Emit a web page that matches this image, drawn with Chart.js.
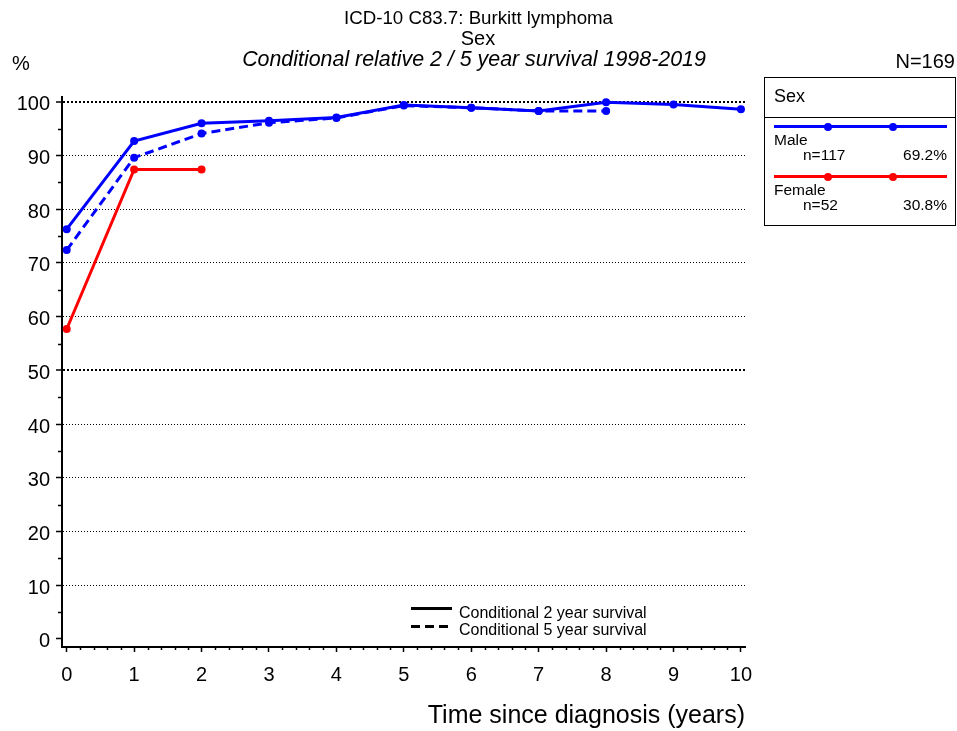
<!DOCTYPE html>
<html><head><meta charset="utf-8">
<script src="https://cdn.jsdelivr.net/npm/chart.js@4/dist/chart.umd.min.js"></script>
<style>
html,body{margin:0;padding:0;background:#fff;}
#wrap{position:relative;width:957px;height:731px;font-family:"Liberation Sans",Arial,sans-serif;color:#000;overflow:hidden;}
canvas{position:absolute;left:0;top:0;}
.t{position:absolute;white-space:nowrap;line-height:1;}
.ln{position:absolute;height:3px;}
.dot{position:absolute;width:8px;height:8px;border-radius:50%;}
</style></head><body>
<div id="wrap">
<canvas id="c" width="957" height="731"></canvas>
<div class="t" style="left:478.5px;top:9px;font-size:18.7px;transform:translateX(-50%);">ICD-10 C83.7: Burkitt lymphoma</div>
<div class="t" style="left:478px;top:28px;font-size:20px;transform:translateX(-50%);">Sex</div>
<div class="t" style="left:474px;top:49px;font-size:21.4px;font-style:italic;transform:translateX(-50%);">Conditional relative 2 / 5 year survival 1998-2019</div>
<div class="t" style="left:12px;top:53px;font-size:20px;">%</div>
<div class="t" style="right:2px;top:51px;font-size:20px;">N=169</div>

<div style="position:absolute;left:764px;top:77px;width:190px;height:147px;border:1px solid #000;"></div>
<div style="position:absolute;left:764px;top:117px;width:191px;height:1px;background:#000;"></div>
<div class="t" style="left:774px;top:87px;font-size:18px;">Sex</div>
<div class="ln" style="left:774px;top:125px;width:173px;background:#0000ff;"></div>
<div class="dot" style="left:824px;top:122.5px;background:#0000ff;"></div>
<div class="dot" style="left:889px;top:122.5px;background:#0000ff;"></div>
<div class="t" style="left:774px;top:132px;font-size:15.5px;">Male</div>
<div class="t" style="left:803px;top:147px;font-size:15.5px;">n=117</div>
<div class="t" style="right:10px;top:147px;font-size:15.5px;">69.2%</div>
<div class="ln" style="left:774px;top:175px;width:173px;background:#ff0000;"></div>
<div class="dot" style="left:824px;top:172.5px;background:#ff0000;"></div>
<div class="dot" style="left:889px;top:172.5px;background:#ff0000;"></div>
<div class="t" style="left:774px;top:182px;font-size:15.5px;">Female</div>
<div class="t" style="left:803px;top:197px;font-size:15.5px;">n=52</div>
<div class="t" style="right:10px;top:197px;font-size:15.5px;">30.8%</div>

<svg style="position:absolute;left:0;top:0;" width="957" height="731">
<line x1="411" y1="608.5" x2="452" y2="608.5" stroke="#000" stroke-width="3"/>
<line x1="411" y1="626.5" x2="452" y2="626.5" stroke="#000" stroke-width="3" stroke-dasharray="9,5"/>
</svg>
<div class="t" style="left:459px;top:604.5px;font-size:16px;">Conditional 2 year survival</div>
<div class="t" style="left:459px;top:621.5px;font-size:16px;">Conditional 5 year survival</div>
</div>
<script>
// ---- data ----
const years = [0, 1, 2, 3, 4, 5, 6, 7, 8, 9, 10];
const male2yr = [76.3, 92.7, 96.0, 96.5, 97.1, 99.4, 98.9, 98.3, 99.9, 99.5, 98.6];
const male5yr = [72.4, 89.6, 94.1, 96.1, 97.0, 99.3, 98.9, 98.3, 98.3];
const female2yr = [57.7, 87.4, 87.4];
const yTickValues = [0, 10, 20, 30, 40, 50, 60, 70, 80, 90, 100];
const yMinorValues = [5, 15, 25, 35, 45, 55, 65, 75, 85, 95];
const xTickValues = [0, 1, 2, 3, 4, 5, 6, 7, 8, 9, 10];
const xMinorStep = 0.2;

const FAMILY = '"Liberation Sans", Arial, sans-serif';
const pts = arr => arr.map((v, i) => ({x: years[i], y: v}));

const minorTicks = {
  id: 'minorTicks',
  afterDraw(chart) {
    const {ctx, chartArea, scales: {x, y}} = chart;
    ctx.save();
    ctx.strokeStyle = '#000';
    ctx.lineWidth = 1.5;
    ctx.beginPath();
    yMinorValues.forEach(v => {
      const py = Math.round(y.getPixelForValue(v)) + 0.5;
      ctx.moveTo(chartArea.left - 4, py);
      ctx.lineTo(chartArea.left, py);
    });
    for (let k = 0; k <= 50; k++) {
      if (k % 5 === 0) continue;
      const v = k * xMinorStep;
      const px = Math.round(x.getPixelForValue(v)) + 0.5;
      ctx.moveTo(px, chartArea.bottom);
      ctx.lineTo(px, chartArea.bottom + 3);
    }
    ctx.stroke();
    ctx.restore();
  }
};

new Chart(document.getElementById('c'), {
  type: 'line',
  data: {
    datasets: [
      {label: 'Male 2yr', data: pts(male2yr), borderColor: '#0000ff', backgroundColor: '#0000ff',
       borderWidth: 3, pointRadius: 4, pointBorderWidth: 0, tension: 0, clip: false},
      {label: 'Male 5yr', data: pts(male5yr), borderColor: '#0000ff', backgroundColor: '#0000ff',
       borderWidth: 3, borderDash: [9, 5], pointRadius: 4, pointBorderWidth: 0, tension: 0, clip: false},
      {label: 'Female 2yr', data: pts(female2yr), borderColor: '#ff0000', backgroundColor: '#ff0000',
       borderWidth: 3, pointRadius: 4, pointBorderWidth: 0, tension: 0, clip: false}
    ]
  },
  options: {
    responsive: false, animation: false, devicePixelRatio: 1,
    layout: {padding: {top: 97, right: 212, left: 0, bottom: 0}},
    plugins: {legend: {display: false}, title: {display: false}, tooltip: {enabled: false}},
    scales: {
      x: {
        type: 'linear', min: -0.07, max: 10.06,
        afterBuildTicks: s => { s.ticks = xTickValues.map(v => ({value: v})); },
        afterFit: s => { s.height = 84; },
        grid: {drawOnChartArea: false, drawTicks: true, tickLength: 5, tickColor: '#000', tickWidth: 1.5},
        border: {display: true, color: '#000', width: 2},
        ticks: {font: {family: FAMILY, size: 20}, color: '#000', padding: 11, maxRotation: 0, autoSkip: false},
        title: {display: true, text: 'Time since diagnosis (years)', align: 'end',
                font: {family: FAMILY, size: 25}, color: '#000', padding: {top: 0, bottom: 0}}
      },
      y: {
        min: -1.5, max: 100.9,
        afterBuildTicks: s => { s.ticks = yTickValues.map(v => ({value: v})); },
        afterFit: s => { s.width = 62; },
        grid: {
          color: c => (c.tick && c.tick.value === 0) ? 'rgba(0,0,0,0)' : '#000',
          lineWidth: c => (c.tick && (c.tick.value === 50 || c.tick.value === 100)) ? 2 : 1,
          tickColor: '#000', tickWidth: 1.5, tickLength: 6, drawTicks: true
        },
        border: {display: true, color: '#000', width: 2,
                 dash: c => (c.tick && (c.tick.value === 50 || c.tick.value === 100)) ? [2, 2] : [1, 2]},
        ticks: {font: {family: FAMILY, size: 20}, color: '#000', padding: 6, labelOffset: 3, autoSkip: false}
      }
    }
  },
  plugins: [minorTicks]
});
</script>
</body></html>
